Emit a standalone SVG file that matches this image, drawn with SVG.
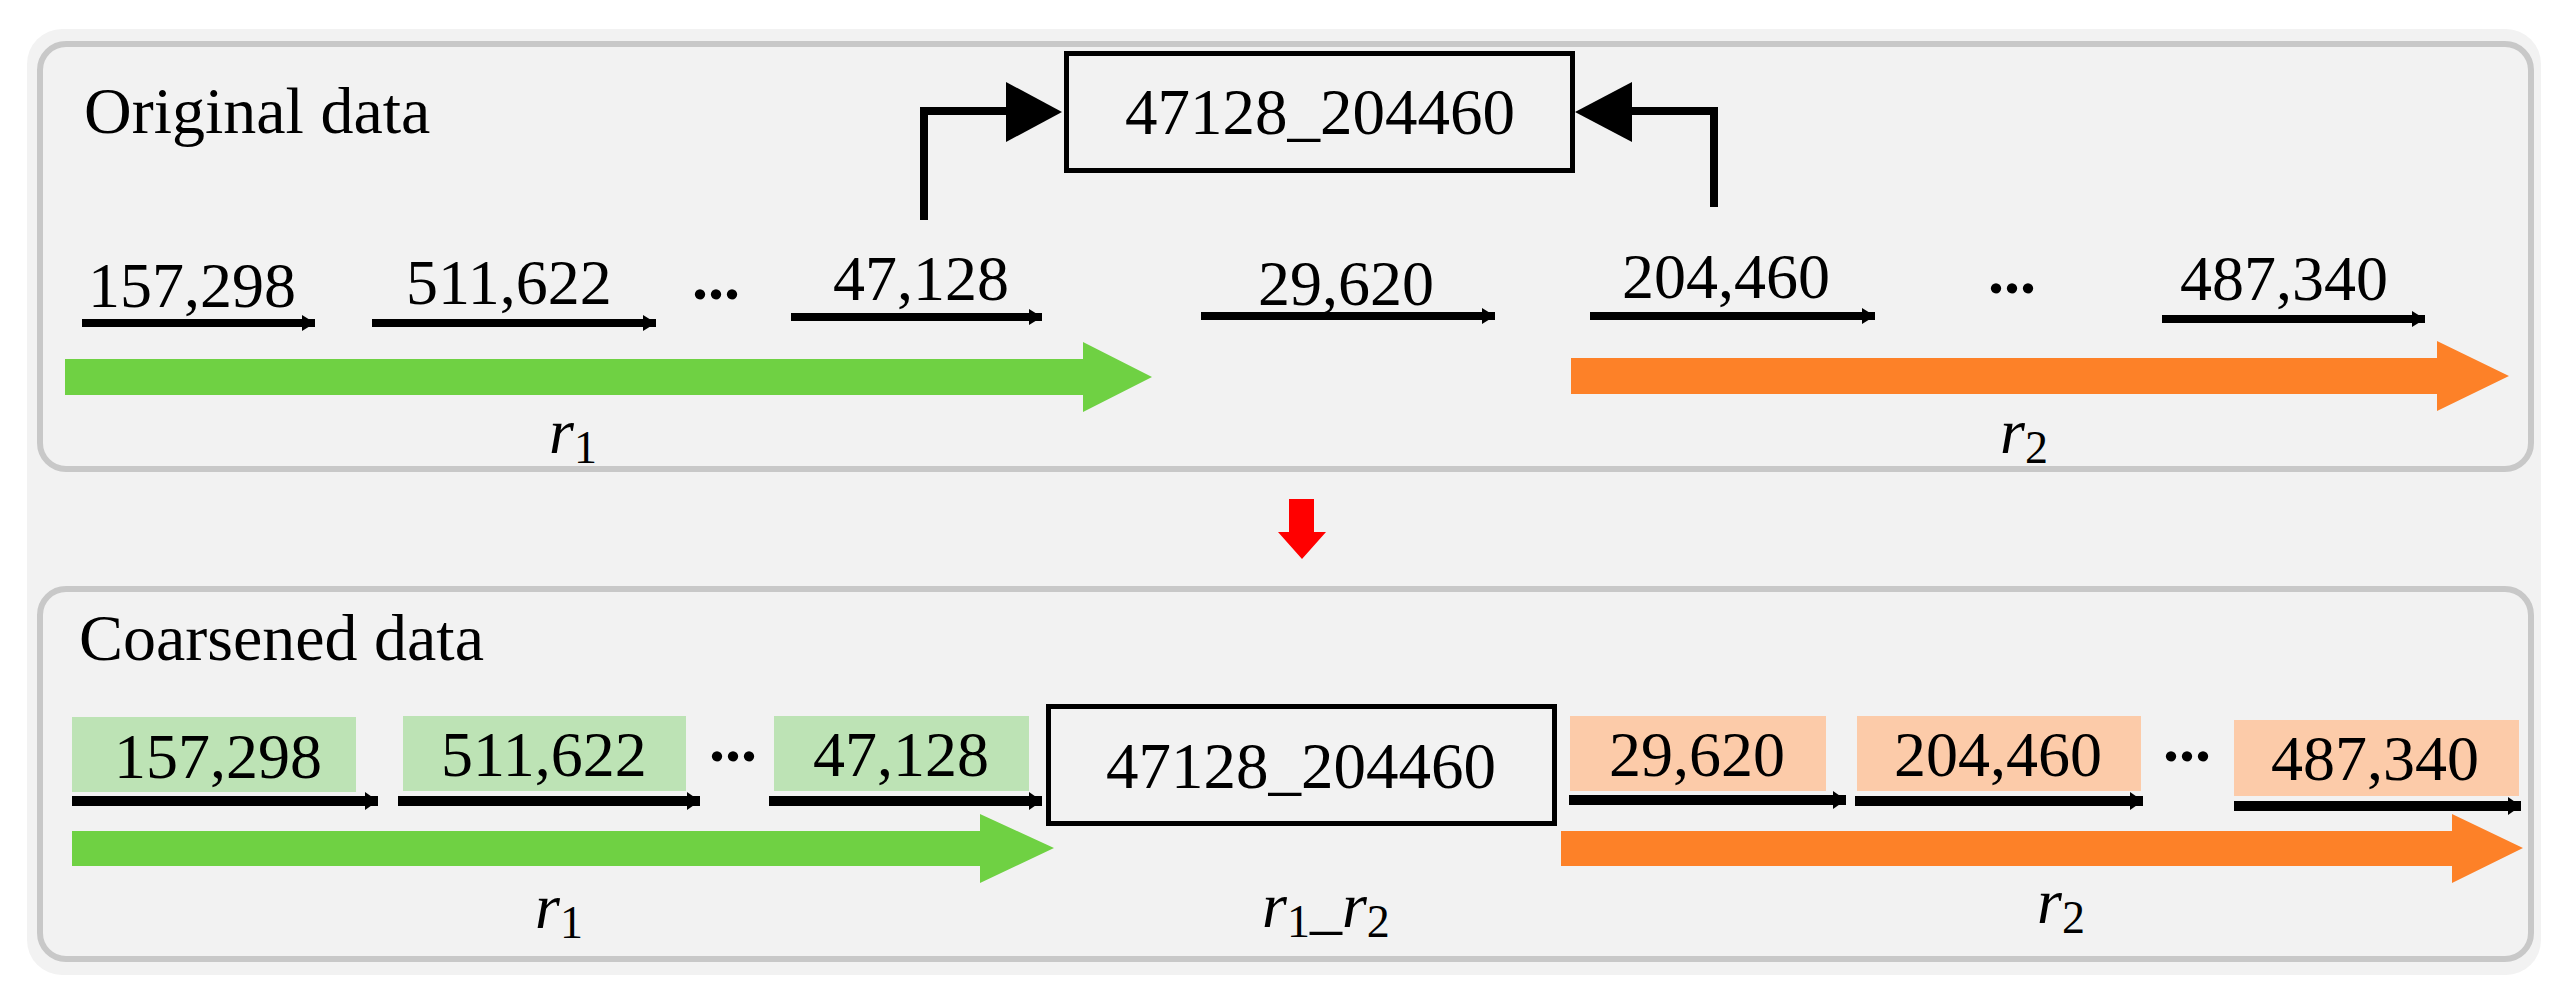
<svg xmlns="http://www.w3.org/2000/svg" width="2562" height="993" viewBox="0 0 2562 993">
<style>
  text { font-family: "Liberation Serif", "Times New Roman", serif; fill: #000; }
  .title { font-size: 66px; }
  .num { font-size: 64px; }
  .dots { font-size: 64px; font-weight: bold; }
  .boxt { font-size: 65px; }
  .lbl { font-size: 64px; }
  .it { font-style: italic; }
  .panel { fill: #f2f2f2; stroke: #c8c8c8; stroke-width: 6; }
  .box { fill: none; stroke: #000; stroke-width: 5; }
  .conn { fill: none; stroke: #000; stroke-width: 8; }
  .head { fill: #000; }
  .small { stroke: #000; stroke-width: 8; marker-end: url(#ah); }
  .small2 { stroke: #000; stroke-width: 10; marker-end: url(#ah2); }
  .green { fill: #6fd143; }
  .orange { fill: #fd8128; }
  .lgreen { fill: #bde3b5; }
  .lorange { fill: #fccba9; }
</style>
<defs>
  <marker id="ah" markerUnits="userSpaceOnUse" markerWidth="14" markerHeight="16" refX="13" refY="8" orient="auto">
    <path d="M0,0 L13,8 L0,16 Z" fill="#000"/>
  </marker>
  <marker id="ah2" markerUnits="userSpaceOnUse" markerWidth="14" markerHeight="18" refX="13" refY="9" orient="auto">
    <path d="M0,0 L13,9 L0,18 Z" fill="#000"/>
  </marker>
</defs>
<rect x="0" y="0" width="2562" height="993" fill="#ffffff"/>
<rect id="outer" x="27" y="29" width="2514" height="946" rx="35" fill="#f2f2f2"/>

<g id="panel-original">
  <rect class="panel" x="40" y="44" width="2491" height="425" rx="26"/>
  <text class="title" x="84" y="133">Original data</text>
</g>
<g id="panel-coarsened">
  <rect class="panel" x="40" y="589" width="2491" height="370" rx="26"/>
  <text class="title" x="79" y="660">Coarsened data</text>
</g>

<!-- Original data row -->
<g id="o-157298"><text class="num" x="88" y="307">157,298</text></g>
<g id="o-511622"><text class="num" x="406" y="304">511,622</text></g>
<g id="o-dots1"><text class="dots" x="692" y="299">...</text></g>
<g id="o-47128"><text class="num" x="833" y="300">47,128</text></g>
<g id="o-29620"><text class="num" x="1258" y="305">29,620</text></g>
<g id="o-204460"><text class="num" x="1622" y="298">204,460</text></g>
<g id="o-dots2"><text class="dots" x="1988" y="293">...</text></g>
<g id="o-487340"><text class="num" x="2180" y="300">487,340</text></g>

<g id="o-merged">
  <rect class="box" x="1066.5" y="53.5" width="506" height="117"/>
  <text class="boxt" x="1320" y="134" text-anchor="middle">47128_204460</text>
</g>

<g id="o-r1-arrow"><polygon class="green" points="65,359 1083,359 1083,342 1152,377 1083,412 1083,395 65,395"/></g>
<g id="o-r2-arrow"><polygon class="orange" points="1571,358 2437,358 2437,341 2509,376 2437,411 2437,394 1571,394"/></g>
<g id="o-r1-label"><text class="lbl" x="549" y="453"><tspan class="it">r</tspan><tspan font-size="46" dy="10">1</tspan></text></g>
<g id="o-r2-label"><text class="lbl" x="2000" y="453"><tspan class="it">r</tspan><tspan font-size="46" dy="10">2</tspan></text></g>

<!-- Coarsened data row -->
<g id="c-157298">
  <rect class="lgreen" x="72" y="717" width="284" height="75"/>
  <text class="num" x="114" y="778">157,298</text>
</g>
<g id="c-511622">
  <rect class="lgreen" x="403" y="716" width="283" height="75"/>
  <text class="num" x="441" y="776">511,622</text>
</g>
<g id="c-dots1"><text class="dots" x="709" y="761">...</text></g>
<g id="c-47128">
  <rect class="lgreen" x="774" y="716" width="255" height="75"/>
  <text class="num" x="813" y="776">47,128</text>
</g>
<g id="c-merged">
  <rect class="box" x="1048.5" y="706.5" width="506" height="117"/>
  <text class="boxt" x="1301" y="788" text-anchor="middle">47128_204460</text>
</g>
<g id="c-29620">
  <rect class="lorange" x="1570" y="716" width="256" height="75"/>
  <text class="num" x="1609" y="776">29,620</text>
</g>
<g id="c-204460">
  <rect class="lorange" x="1857" y="716" width="284" height="75"/>
  <text class="num" x="1894" y="776">204,460</text>
</g>
<g id="c-dots2"><text class="dots" x="2163" y="761">...</text></g>
<g id="c-487340">
  <rect class="lorange" x="2234" y="720" width="285" height="76"/>
  <text class="num" x="2271" y="780">487,340</text>
</g>

<g id="c-r1-arrow"><polygon class="green" points="72,831 980,831 980,814 1054,848 980,883 980,866 72,866"/></g>
<g id="c-r2-arrow"><polygon class="orange" points="1561,831 2452,831 2452,814 2523,848 2452,883 2452,866 1561,866"/></g>
<g id="c-r1-label"><text class="lbl" x="535" y="928"><tspan class="it">r</tspan><tspan font-size="46" dy="10">1</tspan></text></g>
<g id="c-r1r2-label"><text class="lbl" x="1262" y="927"><tspan class="it">r</tspan><tspan font-size="46" dy="10">1</tspan><tspan dy="-10">_</tspan><tspan class="it">r</tspan><tspan font-size="46" dy="10">2</tspan></text></g>
<g id="c-r2-label"><text class="lbl" x="2037" y="923"><tspan class="it">r</tspan><tspan font-size="46" dy="10">2</tspan></text></g>

<g id="transition">
  <polygon fill="#ff0000" points="1289,499 1314,499 1314,532 1326,532 1302,559 1278,532 1289,532"/>
</g>

<g id="connectors">
  <line class="small" x1="82" y1="323" x2="315" y2="323"/>
  <line class="small" x1="372" y1="323" x2="656" y2="323"/>
  <line class="small" x1="791" y1="317" x2="1042" y2="317"/>
  <line class="small" x1="1201" y1="316" x2="1495" y2="316"/>
  <line class="small" x1="1590" y1="316" x2="1875" y2="316"/>
  <line class="small" x1="2162" y1="319" x2="2425" y2="319"/>

  <line class="small2" x1="72" y1="801" x2="378" y2="801"/>
  <line class="small2" x1="398" y1="801" x2="700" y2="801"/>
  <line class="small2" x1="769" y1="801" x2="1042" y2="801"/>
  <line class="small2" x1="1569" y1="800" x2="1846" y2="800"/>
  <line class="small2" x1="1855" y1="801" x2="2143" y2="801"/>
  <line class="small2" x1="2234" y1="806" x2="2521" y2="806"/>

  <path class="conn" d="M924,220 V111 H1010"/>
  <polygon class="head" points="1006,82 1062,112 1006,142"/>
  <path class="conn" d="M1714,207 V111 H1628"/>
  <polygon class="head" points="1632,82 1575,112 1632,142"/>
</g>
</svg>
